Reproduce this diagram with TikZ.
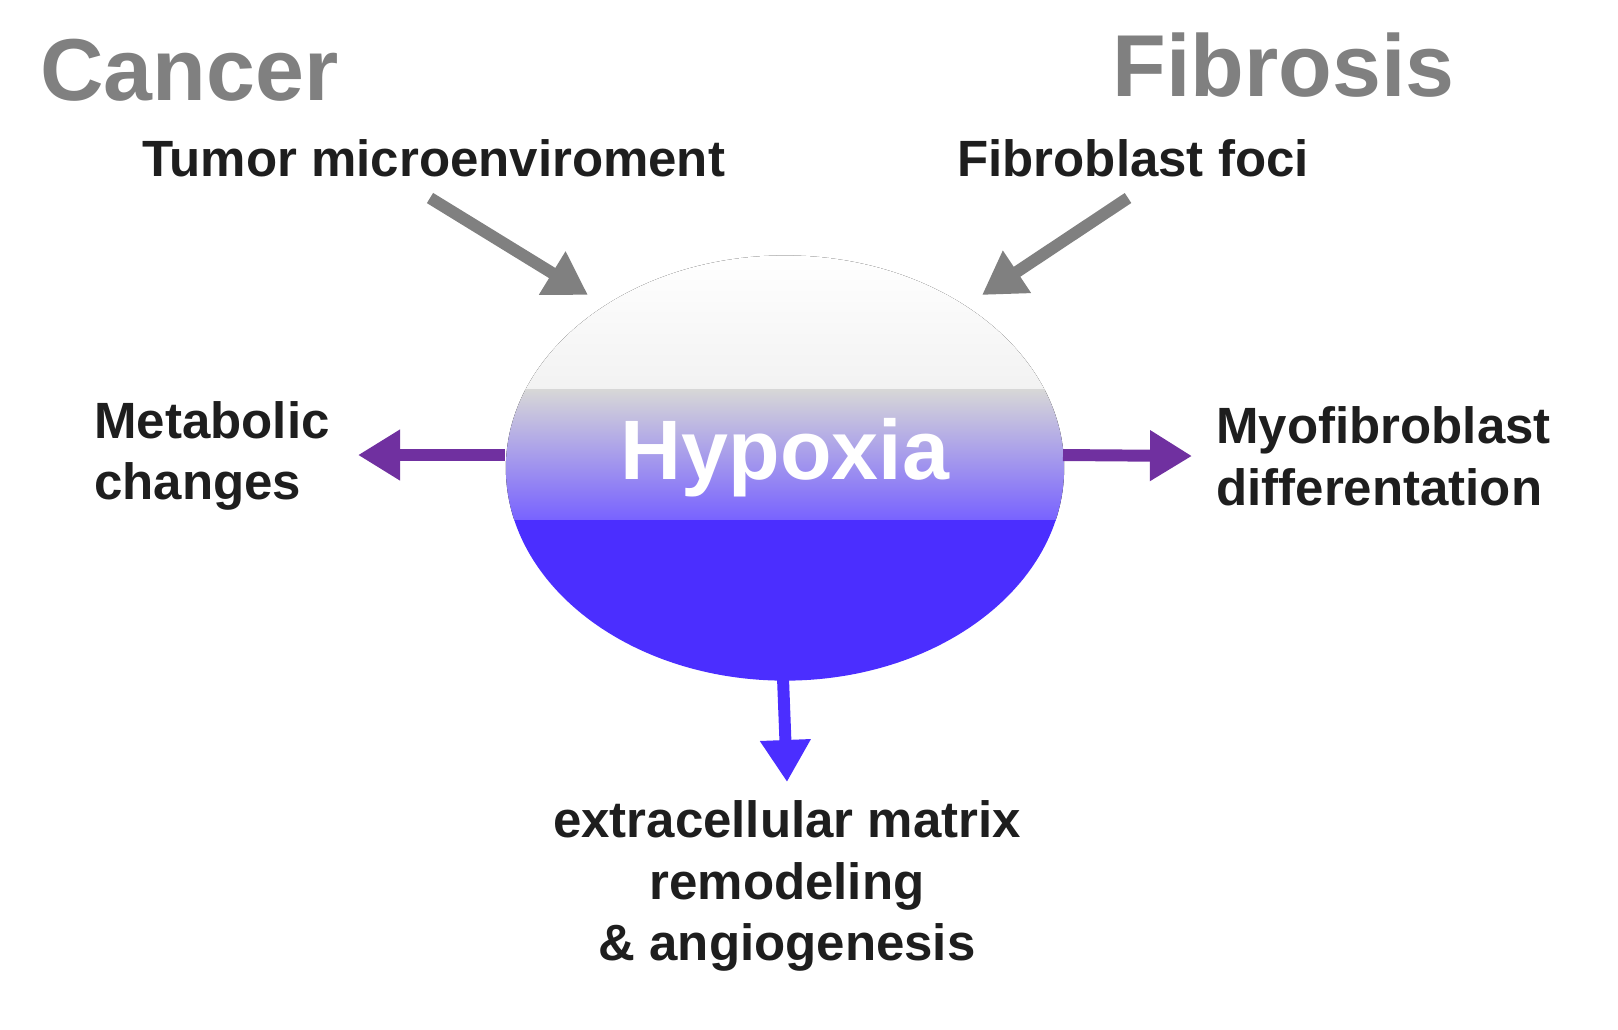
\documentclass[tikz,border=0pt]{standalone}
\usepackage{fontspec}
\setmainfont{Liberation Sans}
\usetikzlibrary{arrows.meta,shapes.geometric,positioning}
\definecolor{grayarrow}{RGB}{128,128,128}
\definecolor{purparrow}{RGB}{112,48,160}
\definecolor{hypblue}{RGB}{75,46,255}
\definecolor{hypgray}{RGB}{215,215,215}
\definecolor{titlegray}{RGB}{128,128,128}
\definecolor{txt}{RGB}{30,30,30}

\begin{document}
\begin{tikzpicture}[x=0.01cm,y=-0.01cm,
  fat arrow/.style={line width=3.4pt,-{Triangle[length=0.42cm,width=0.48cm]}},
  title/.style={font=\bfseries\fontsize{25}{28}\selectfont,text=titlegray},
  label/.style={font=\bfseries\fontsize{14.5}{17.5}\selectfont,text=txt,align=left}]
  \useasboundingbox (0,0) rectangle (1618,1029);

  % hypoxia bubble
  \node[ellipse,minimum width=5.58cm,minimum height=4.25cm,inner sep=0pt,
    path picture={
      \fill[top color=white,bottom color=hypgray] (-300,-215) rectangle (300,-78);
      \fill[top color=hypgray,bottom color=hypblue!75] (-300,-78.5) rectangle (300,52);
      \fill[hypblue] (-300,51.5) rectangle (300,235);
    }] (hyp) at (785,468) {};
  \node[font=\bfseries\fontsize{24}{28}\selectfont,text=white] at (785,458) {Hypoxia};

  \node[title,anchor=west] (cancer) at (28,70) {Cancer};
  \node[title,anchor=west] (fibrosis) at (1100,65) {Fibrosis};
  \node[label,anchor=west] (tumor) at (130,158) {Tumor microenviroment};
  \node[label,anchor=west] (foci) at (945,158) {Fibroblast foci};
  \node[label,anchor=west] (metab) at (82,456) {Metabolic\\changes};
  \node[label,anchor=west] (myo) at (1204,456) {Myofibroblast\\differentation};
  \node[label,align=center] (ecm) at (787,886) {extracellular matrix\\remodeling\\\& angiogenesis};

  \coordinate (t0) at (430,198);
  \coordinate (t1) at (588,295);
  \coordinate (f0) at (1128,198);
  \coordinate (f1) at (982,295);
  \coordinate (m0) at (505,455);
  \coordinate (m1) at (358,455);
  \coordinate (y0) at (1063,455);
  \coordinate (y1) at (1192,456);
  \coordinate (e0) at (783,678);
  \coordinate (e1) at (787,782);

  \draw[fat arrow,grayarrow] (t0) -- (t1);
  \draw[fat arrow,grayarrow] (f0) -- (f1);
  \draw[fat arrow,purparrow] (m0) -- (m1);
  \draw[fat arrow,purparrow] (y0) -- (y1);
  \draw[fat arrow,hypblue] (e0) -- (e1);
\end{tikzpicture}
\end{document}
